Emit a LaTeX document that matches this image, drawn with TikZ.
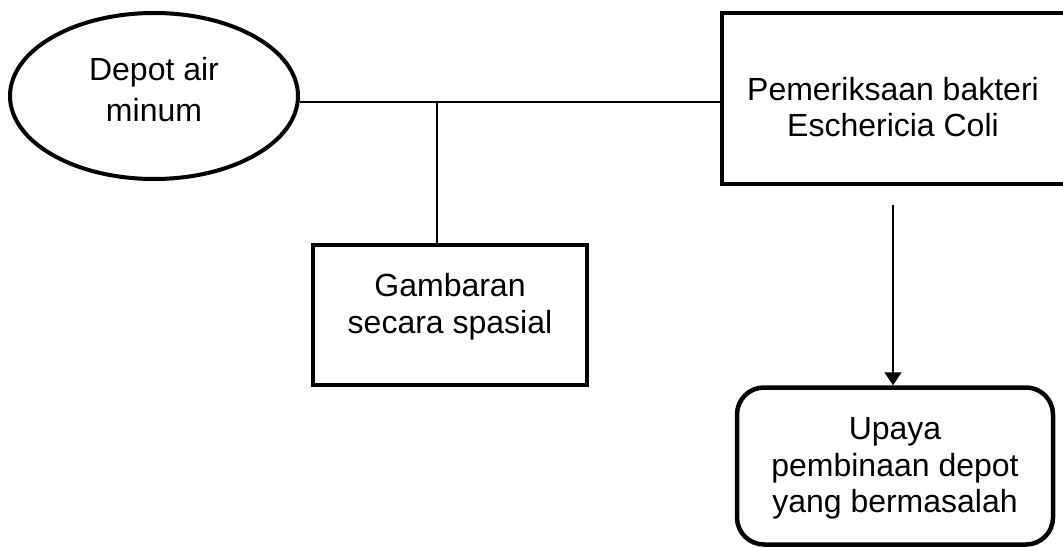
\documentclass[tikz,border=0pt]{standalone}
\usepackage{fontspec}
\setmainfont{Liberation Sans}
\usetikzlibrary{arrows.meta,shapes.geometric}
\begin{document}
\begin{tikzpicture}%
	[x=1pt,
	y=-1pt,
	font=\fontsize{32}{36.8}\selectfont,
	oval/.style={ellipse, draw, line width=4pt, inner sep=0pt, minimum width=288, minimum height=166},
	box/.style={rectangle, draw, line width=4pt, inner sep=0pt},
	roundbox/.style={box, rounded corners=27pt, line width=4.5pt},
	txt/.style={align=center, inner sep=0pt},
	link/.style={line width=1.5pt},
	arrowlink/.style={link, -{Triangle[length=13pt, width=17pt]}}]
%
%
%% Page of the picture:
%%
\path[use as bounding box, clip] (0,0) rectangle (1063,548);
%%
%%
%% Drawing the shapes
%%
\node[oval] (depot) at (154,96) {};
\node[box, minimum width=348, minimum height=171] (periksa) at (896,98.5) {};
\node[box, minimum width=274, minimum height=139.5] (spasial) at (450,315.25) {};
\node[roundbox, minimum width=316, minimum height=157] (upaya) at (895,466) {};
%%
%%
%% Drawing the texts
%%
\node[txt] (depottext) at (154,89.5) {Depot air\\[5pt]minum};
\node[txt] (periksatext) at (893,107) {Pemeriksaan bakteri\\Eschericia Coli};
\node[txt] (spasialtext) at (450,306.5) {Gambaran\\secara spasial};
\node[txt] (upayatext) at (895,468.5) {Upaya\\pembinaan depot\\yang bermasalah};
%%
%%
%% Drawing the connectors
%%
\coordinate (junction) at (437,102);
\coordinate (arrowstart) at (893,205);
\draw[link] (depot.east |- junction) -- (periksa.west |- junction);
\draw[link] (junction) -- (junction |- spasial.north);
\draw[arrowlink] (arrowstart) -- (arrowstart |- upaya.north);
%%
%%
\end{tikzpicture}
\end{document}
